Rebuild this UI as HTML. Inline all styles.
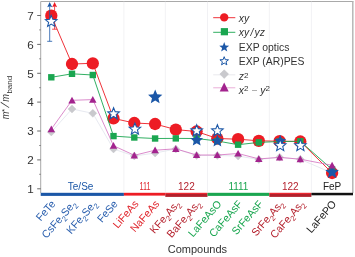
<!DOCTYPE html><html><head><meta charset="utf-8"><style>html,body{margin:0;padding:0;background:#fff}svg{display:block}</style></head><body><svg width="355" height="257" viewBox="0 0 355 257" font-family="Liberation Sans, sans-serif">
<rect width="355" height="257" fill="#fff"/>
<path d="M40.7 193V1.5H353.3" fill="none" stroke="#a4a4a4" stroke-width="0.95"/><line x1="352.8" y1="1.1" x2="352.8" y2="193" stroke="#b2b2b2" stroke-width="1.4"/>
<line x1="123.9" y1="1.5" x2="123.9" y2="192" stroke="#e8e8ed" stroke-width="0.6"/>
<line x1="165.3" y1="1.5" x2="165.3" y2="192" stroke="#e8e8ed" stroke-width="0.6"/>
<line x1="207.5" y1="1.5" x2="207.5" y2="192" stroke="#e8e8ed" stroke-width="0.6"/>
<line x1="269.3" y1="1.5" x2="269.3" y2="192" stroke="#e8e8ed" stroke-width="0.6"/>
<line x1="311.4" y1="1.5" x2="311.4" y2="192" stroke="#e8e8ed" stroke-width="0.6"/>
<line x1="37.2" y1="188.8" x2="40.7" y2="188.8" stroke="#444" stroke-width="0.8"/>
<text transform="translate(33.7,193.1) scale(1.1,1)" font-size="10.6" text-anchor="end" fill="#333">1</text>
<line x1="39.2" y1="174.3" x2="40.7" y2="174.3" stroke="#555" stroke-width="0.7"/>
<line x1="37.2" y1="159.9" x2="40.7" y2="159.9" stroke="#444" stroke-width="0.8"/>
<text transform="translate(33.7,164.2) scale(1.1,1)" font-size="10.6" text-anchor="end" fill="#333">2</text>
<line x1="39.2" y1="145.5" x2="40.7" y2="145.5" stroke="#555" stroke-width="0.7"/>
<line x1="37.2" y1="131.0" x2="40.7" y2="131.0" stroke="#444" stroke-width="0.8"/>
<text transform="translate(33.7,135.3) scale(1.1,1)" font-size="10.6" text-anchor="end" fill="#333">3</text>
<line x1="39.2" y1="116.6" x2="40.7" y2="116.6" stroke="#555" stroke-width="0.7"/>
<line x1="37.2" y1="102.1" x2="40.7" y2="102.1" stroke="#444" stroke-width="0.8"/>
<text transform="translate(33.7,106.4) scale(1.1,1)" font-size="10.6" text-anchor="end" fill="#333">4</text>
<line x1="39.2" y1="87.7" x2="40.7" y2="87.7" stroke="#555" stroke-width="0.7"/>
<line x1="37.2" y1="73.3" x2="40.7" y2="73.3" stroke="#444" stroke-width="0.8"/>
<text transform="translate(33.7,77.6) scale(1.1,1)" font-size="10.6" text-anchor="end" fill="#333">5</text>
<line x1="39.2" y1="58.8" x2="40.7" y2="58.8" stroke="#555" stroke-width="0.7"/>
<line x1="37.2" y1="44.4" x2="40.7" y2="44.4" stroke="#444" stroke-width="0.8"/>
<text transform="translate(33.7,48.7) scale(1.1,1)" font-size="10.6" text-anchor="end" fill="#333">6</text>
<line x1="39.2" y1="29.9" x2="40.7" y2="29.9" stroke="#555" stroke-width="0.7"/>
<line x1="37.2" y1="15.5" x2="40.7" y2="15.5" stroke="#444" stroke-width="0.8"/>
<text transform="translate(33.7,19.8) scale(1.1,1)" font-size="10.6" text-anchor="end" fill="#333">7</text>
<g transform="translate(9.2,119.3) rotate(-90)" fill="#333" font-size="11.4"><text x="0" y="0" font-style="italic" textLength="7.6" lengthAdjust="spacingAndGlyphs">m</text><text x="7.4" y="-2.2" font-size="8">*</text><text transform="translate(11.4,0) skewX(-20)" x="0" y="0">/</text><text x="17.6" y="0" font-style="italic" textLength="7.7" lengthAdjust="spacingAndGlyphs">m</text><text x="25.7" y="3" font-size="8">band</text></g>
<rect x="40.7" y="192.8" width="83.2" height="3.1" fill="#1b57a7"/>
<rect x="123.9" y="192.8" width="41.4" height="2.8" fill="#ed1c24"/>
<rect x="165.3" y="193.6" width="42.2" height="3.3" fill="#b3202b"/>
<rect x="165.3" y="192.8" width="42.2" height="1.1" fill="#ed1c24"/>
<rect x="207.5" y="192.8" width="61.8" height="3.1" fill="#1aa650"/>
<rect x="269.3" y="193.6" width="42.1" height="3.3" fill="#b3202b"/>
<rect x="269.3" y="192.8" width="42.1" height="1.1" fill="#ed1c24"/>
<rect x="311.4" y="192.8" width="41.6" height="2.5" fill="#111"/>
<text x="80.6" y="190.4" font-size="10" text-anchor="middle" fill="#1b57a7">Te/Se</text>
<text x="145.0" y="190.0" font-size="10" text-anchor="middle" fill="#e0262d" textLength="11" lengthAdjust="spacingAndGlyphs">111</text>
<text x="186.4" y="190.0" font-size="10" text-anchor="middle" fill="#b5232f">122</text>
<text x="238.4" y="190.0" font-size="10" text-anchor="middle" fill="#1aa650">1111</text>
<text x="290.3" y="190.0" font-size="10" text-anchor="middle" fill="#b5232f">122</text>
<text x="332.1" y="190.0" font-size="10" text-anchor="middle" fill="#222">FeP</text>
<polyline points="51.3,132.0 72.0,109.0 92.8,113.3 113.5,149.0 134.3,156.0 155.1,153.0 175.8,149.0 196.6,155.5 217.3,155.5 238.1,156.0 258.8,159.5 279.6,157.2 300.3,159.3 332.1,173.0" fill="none" stroke="#dde0ea" stroke-width="0.7"/>
<path d="M51.3 128.0L55.3 132.0L51.3 136.0L47.3 132.0Z" fill="#c9c9cd" stroke="#bfbfc4" stroke-width="0.3"/>
<path d="M72.0 105.0L76.0 109.0L72.0 113.0L68.0 109.0Z" fill="#c9c9cd" stroke="#bfbfc4" stroke-width="0.3"/>
<path d="M92.8 109.3L96.8 113.3L92.8 117.3L88.8 113.3Z" fill="#c9c9cd" stroke="#bfbfc4" stroke-width="0.3"/>
<path d="M113.5 145.0L117.5 149.0L113.5 153.0L109.5 149.0Z" fill="#c9c9cd" stroke="#bfbfc4" stroke-width="0.3"/>
<path d="M134.3 152.0L138.3 156.0L134.3 160.0L130.3 156.0Z" fill="#c9c9cd" stroke="#bfbfc4" stroke-width="0.3"/>
<path d="M155.1 149.0L159.1 153.0L155.1 157.0L151.1 153.0Z" fill="#c9c9cd" stroke="#bfbfc4" stroke-width="0.3"/>
<path d="M175.8 145.0L179.8 149.0L175.8 153.0L171.8 149.0Z" fill="#c9c9cd" stroke="#bfbfc4" stroke-width="0.3"/>
<path d="M196.6 151.5L200.6 155.5L196.6 159.5L192.6 155.5Z" fill="#c9c9cd" stroke="#bfbfc4" stroke-width="0.3"/>
<path d="M217.3 151.5L221.3 155.5L217.3 159.5L213.3 155.5Z" fill="#c9c9cd" stroke="#bfbfc4" stroke-width="0.3"/>
<path d="M238.1 152.0L242.1 156.0L238.1 160.0L234.1 156.0Z" fill="#c9c9cd" stroke="#bfbfc4" stroke-width="0.3"/>
<path d="M258.8 155.5L262.8 159.5L258.8 163.5L254.8 159.5Z" fill="#c9c9cd" stroke="#bfbfc4" stroke-width="0.3"/>
<path d="M279.6 153.2L283.6 157.2L279.6 161.2L275.6 157.2Z" fill="#c9c9cd" stroke="#bfbfc4" stroke-width="0.3"/>
<path d="M300.3 155.3L304.3 159.3L300.3 163.3L296.3 159.3Z" fill="#c9c9cd" stroke="#bfbfc4" stroke-width="0.3"/>
<path d="M332.1 169.0L336.1 173.0L332.1 177.0L328.1 173.0Z" fill="#c9c9cd" stroke="#bfbfc4" stroke-width="0.3"/>
<polyline points="51.3,15.7 72.0,64.0 92.8,63.3 113.5,118.4 134.3,123.0 155.1,124.0 175.8,129.6 196.6,131.5 217.3,138.5 238.1,139.2 258.8,140.8 279.6,141.2 300.3,141.5 332.1,173.0" fill="none" stroke="#ed1c24" stroke-width="0.9"/>
<path d="M54.6 29.2V5 M52.1 29.2H57.1" stroke="#ed1c24" stroke-width="0.8" fill="none"/><path d="M52.1 7.3L54.6 2L57.1 7.3L54.6 6.2Z" fill="#ed1c24"/>
<circle cx="51.3" cy="15.7" r="6.15" fill="#ed1c24"/>
<circle cx="72.0" cy="64.0" r="6.15" fill="#ed1c24"/>
<circle cx="92.8" cy="63.3" r="6.15" fill="#ed1c24"/>
<circle cx="113.5" cy="118.4" r="6.15" fill="#ed1c24"/>
<circle cx="134.3" cy="123.0" r="6.15" fill="#ed1c24"/>
<circle cx="155.1" cy="124.0" r="6.15" fill="#ed1c24"/>
<circle cx="175.8" cy="129.6" r="6.15" fill="#ed1c24"/>
<circle cx="196.6" cy="131.5" r="6.15" fill="#ed1c24"/>
<circle cx="217.3" cy="138.5" r="6.15" fill="#ed1c24"/>
<circle cx="238.1" cy="139.2" r="6.15" fill="#ed1c24"/>
<circle cx="258.8" cy="140.8" r="6.15" fill="#ed1c24"/>
<circle cx="279.6" cy="141.2" r="6.15" fill="#ed1c24"/>
<circle cx="300.3" cy="141.5" r="6.15" fill="#ed1c24"/>
<circle cx="332.1" cy="173.0" r="6.15" fill="#ed1c24"/>
<polyline points="51.3,77.3 72.0,73.8 92.8,75.0 113.5,136.1 134.3,137.5 155.1,138.5 175.8,138.4 196.6,138.5 217.3,141.0 238.1,144.7 258.8,142.4 279.6,141.5 300.3,141.3 332.1,169.5" fill="none" stroke="#1aa650" stroke-width="0.9"/>
<rect x="48.1" y="74.1" width="6.4" height="6.4" fill="#1aa650"/>
<rect x="68.8" y="70.6" width="6.4" height="6.4" fill="#1aa650"/>
<rect x="89.6" y="71.8" width="6.4" height="6.4" fill="#1aa650"/>
<rect x="110.3" y="132.9" width="6.4" height="6.4" fill="#1aa650"/>
<rect x="131.1" y="134.3" width="6.4" height="6.4" fill="#1aa650"/>
<rect x="151.9" y="135.3" width="6.4" height="6.4" fill="#1aa650"/>
<rect x="172.6" y="135.2" width="6.4" height="6.4" fill="#1aa650"/>
<rect x="193.4" y="135.3" width="6.4" height="6.4" fill="#1aa650"/>
<rect x="214.1" y="137.8" width="6.4" height="6.4" fill="#1aa650"/>
<rect x="234.9" y="141.5" width="6.4" height="6.4" fill="#1aa650"/>
<rect x="255.6" y="139.2" width="6.4" height="6.4" fill="#1aa650"/>
<rect x="276.4" y="138.3" width="6.4" height="6.4" fill="#1aa650"/>
<rect x="297.1" y="138.1" width="6.4" height="6.4" fill="#1aa650"/>
<rect x="328.9" y="166.3" width="6.4" height="6.4" fill="#1aa650"/>
<polygon points="155.20,89.60 157.18,94.37 162.33,94.78 158.41,98.14 159.61,103.17 155.20,100.48 150.79,103.17 151.99,98.14 148.07,94.78 153.22,94.37" fill="#1b57a7"/>
<polygon points="196.70,133.50 198.47,137.76 203.07,138.13 199.57,141.13 200.64,145.62 196.70,143.21 192.76,145.62 193.83,141.13 190.33,138.13 194.93,137.76" fill="#1b57a7"/>
<polygon points="217.40,134.40 219.17,138.66 223.77,139.03 220.27,142.03 221.34,146.52 217.40,144.11 213.46,146.52 214.53,142.03 211.03,139.03 215.63,138.66" fill="#1b57a7"/>
<polygon points="280.20,134.70 281.87,138.71 286.19,139.05 282.90,141.88 283.90,146.10 280.20,143.84 276.50,146.10 277.50,141.88 274.21,139.05 278.53,138.71" fill="#1b57a7"/>
<polygon points="332.10,165.00 334.00,169.58 338.95,169.98 335.18,173.20 336.33,178.02 332.10,175.44 327.87,178.02 329.02,173.20 325.25,169.98 330.20,169.58" fill="#1b57a7"/>
<path d="M49.7 41.3V5 M47.2 41.3H52.2" stroke="#1b57a7" stroke-width="0.8" fill="none"/><path d="M47.2 7.3L49.7 2L52.2 7.3L49.7 6.2Z" fill="#1b57a7"/>
<polygon points="51.20,15.40 52.78,19.33 57.00,19.61 53.75,22.33 54.79,26.44 51.20,24.18 47.61,26.44 48.65,22.33 45.40,19.61 49.62,19.33" fill="#fff" stroke="#1b57a7" stroke-width="1.05" stroke-linejoin="miter"/>
<polygon points="113.60,107.70 115.18,111.63 119.40,111.91 116.15,114.63 117.19,118.74 113.60,116.48 110.01,118.74 111.05,114.63 107.80,111.91 112.02,111.63" fill="#fff" stroke="#1b57a7" stroke-width="1.05" stroke-linejoin="miter"/>
<polygon points="134.90,123.00 136.48,126.93 140.70,127.21 137.45,129.93 138.49,134.04 134.90,131.78 131.31,134.04 132.35,129.93 129.10,127.21 133.32,126.93" fill="#fff" stroke="#1b57a7" stroke-width="1.05" stroke-linejoin="miter"/>
<polygon points="196.70,124.70 198.28,128.63 202.50,128.91 199.25,131.63 200.29,135.74 196.70,133.48 193.11,135.74 194.15,131.63 190.90,128.91 195.12,128.63" fill="#fff" stroke="#1b57a7" stroke-width="1.05" stroke-linejoin="miter"/>
<polygon points="217.40,124.70 218.98,128.63 223.20,128.91 219.95,131.63 220.99,135.74 217.40,133.48 213.81,135.74 214.85,131.63 211.60,128.91 215.82,128.63" fill="#fff" stroke="#1b57a7" stroke-width="1.05" stroke-linejoin="miter"/>
<polygon points="280.20,139.60 281.78,143.53 286.00,143.81 282.75,146.53 283.79,150.64 280.20,148.38 276.61,150.64 277.65,146.53 274.40,143.81 278.62,143.53" fill="#fff" stroke="#1b57a7" stroke-width="1.05" stroke-linejoin="miter"/>
<polygon points="300.40,139.60 301.98,143.53 306.20,143.81 302.95,146.53 303.99,150.64 300.40,148.38 296.81,150.64 297.85,146.53 294.60,143.81 298.82,143.53" fill="#fff" stroke="#1b57a7" stroke-width="1.05" stroke-linejoin="miter"/>
<polyline points="51.3,129.1 72.0,100.3 92.8,99.6 113.5,145.7 134.3,155.3 155.1,150.2 175.8,148.8 196.6,155.0 217.3,155.0 238.1,153.5 258.8,158.9 279.6,157.4 300.3,159.2 332.1,165.3" fill="none" stroke="#cf66bb" stroke-width="0.75"/>
<path d="M51.3 125.5L55.0 132.2H47.6Z" fill="#a3238e"/>
<path d="M72.0 96.7L75.8 103.4H68.3Z" fill="#a3238e"/>
<path d="M92.8 96.0L96.5 102.7H89.1Z" fill="#a3238e"/>
<path d="M113.5 142.1L117.2 148.8H109.8Z" fill="#a3238e"/>
<path d="M134.3 151.7L138.0 158.4H130.6Z" fill="#a3238e"/>
<path d="M155.1 146.6L158.8 153.3H151.4Z" fill="#a3238e"/>
<path d="M175.8 145.2L179.5 151.9H172.1Z" fill="#a3238e"/>
<path d="M196.6 151.4L200.2 158.1H192.9Z" fill="#a3238e"/>
<path d="M217.3 151.4L221.0 158.1H213.6Z" fill="#a3238e"/>
<path d="M238.1 149.9L241.8 156.6H234.4Z" fill="#a3238e"/>
<path d="M258.8 155.3L262.5 162.0H255.1Z" fill="#a3238e"/>
<path d="M279.6 153.8L283.2 160.5H275.9Z" fill="#a3238e"/>
<path d="M300.3 155.6L304.0 162.3H296.6Z" fill="#a3238e"/>
<path d="M332.1 161.7L335.8 168.4H328.4Z" fill="#a3238e"/>
<line x1="213.2" y1="17.7" x2="235.3" y2="17.7" stroke="#ed1c24" stroke-width="0.9"/><circle cx="224.2" cy="17.4" r="4.2" fill="#ed1c24"/>
<line x1="213.2" y1="32.3" x2="235.3" y2="32.3" stroke="#1aa650" stroke-width="0.9"/><rect x="220.79999999999998" y="28.099999999999998" width="7.2" height="7.2" fill="#1aa650"/>
<polygon points="224.20,42.10 225.48,45.53 229.15,45.69 226.28,47.97 227.26,51.51 224.20,49.48 221.14,51.51 222.12,47.97 219.25,45.69 222.92,45.53" fill="#1b57a7"/>
<polygon points="224.20,56.70 225.31,59.67 228.48,59.81 226.00,61.78 226.85,64.84 224.20,63.09 221.55,64.84 222.40,61.78 219.92,59.81 223.09,59.67" fill="#fff" stroke="#1b57a7" stroke-width="1"/>
<line x1="213.2" y1="74.8" x2="235.3" y2="74.8" stroke="#e4e4e8" stroke-width="0.8"/><path d="M224.2 69.7L228.6 74.1L224.2 78.5L219.79999999999998 74.1Z" fill="#c9c9cd" stroke="#bdbdc2" stroke-width="0.4"/>
<line x1="213.2" y1="88.2" x2="235.3" y2="88.2" stroke="#e9a6d4" transform="translate(0,-0.4)" stroke-width="0.9"/><path d="M224.2 82.60000000000001L228.7 91.60000000000001H219.7Z" fill="#a3238e"/>
<text x="238.8" y="21.5" fill="#333" font-size="10.4" font-style="italic">xy</text>
<text x="238.8" y="36.099999999999994" fill="#333" font-size="10.4" font-style="italic">xy<tspan dx="1.2">/</tspan><tspan dx="1.2">yz</tspan></text>
<text x="238.8" y="50.7" fill="#333" font-size="10.4">EXP optics</text>
<text x="238.8" y="64.8" fill="#333" font-size="10.4">EXP (AR)PES</text>
<text x="238.8" y="80.39999999999999" fill="#333" font-size="10.4"><tspan font-style="italic">z</tspan><tspan font-size="8" dy="-2.8">2</tspan></text>
<text x="238.8" y="94.2" fill="#333" font-size="10.4"><tspan font-style="italic">x</tspan><tspan font-size="8" dy="-2.8">2</tspan><tspan dy="2.8" fill="#999"> − </tspan><tspan font-style="italic">y</tspan><tspan font-size="8" dy="-2.8">2</tspan></text>
<text transform="translate(56.1,204.3) rotate(-49) scale(0.97,1)" font-size="10.8" text-anchor="end" fill="#2a5fae">FeTe</text>
<text transform="translate(76.8,204.3) rotate(-49) scale(0.97,1)" font-size="10.8" text-anchor="end" fill="#2a5fae">CsFe<tspan font-size="7.6" dy="2.8">2</tspan><tspan dy="-2.8">S</tspan>e<tspan font-size="7.6" dy="2.8">2</tspan></text>
<text transform="translate(97.6,204.3) rotate(-49) scale(0.97,1)" font-size="10.8" text-anchor="end" fill="#2a5fae">KFe<tspan font-size="7.6" dy="2.8">2</tspan><tspan dy="-2.8">S</tspan>e<tspan font-size="7.6" dy="2.8">2</tspan></text>
<text transform="translate(118.3,204.3) rotate(-49) scale(0.97,1)" font-size="10.8" text-anchor="end" fill="#2a5fae">FeSe</text>
<text transform="translate(139.1,204.3) rotate(-49) scale(0.97,1)" font-size="10.8" text-anchor="end" fill="#e0262d">LiFeAs</text>
<text transform="translate(159.9,204.3) rotate(-49) scale(0.97,1)" font-size="10.8" text-anchor="end" fill="#e0262d">NaFeAs</text>
<text transform="translate(180.6,204.3) rotate(-49) scale(0.97,1)" font-size="10.8" text-anchor="end" fill="#b5232f">KFe<tspan font-size="7.6" dy="2.8">2</tspan><tspan dy="-2.8">A</tspan>s<tspan font-size="7.6" dy="2.8">2</tspan></text>
<text transform="translate(201.4,204.3) rotate(-49) scale(0.97,1)" font-size="10.8" text-anchor="end" fill="#b5232f">BaFe<tspan font-size="7.6" dy="2.8">2</tspan><tspan dy="-2.8">A</tspan>s<tspan font-size="7.6" dy="2.8">2</tspan></text>
<text transform="translate(222.1,204.3) rotate(-49) scale(0.97,1)" font-size="10.8" text-anchor="end" fill="#1aa650">LaFeAsO</text>
<text transform="translate(242.9,204.3) rotate(-49) scale(0.97,1)" font-size="10.8" text-anchor="end" fill="#1aa650">CaFeAsF</text>
<text transform="translate(263.6,204.3) rotate(-49) scale(0.97,1)" font-size="10.8" text-anchor="end" fill="#1aa650">SrFeAsF</text>
<text transform="translate(284.4,204.3) rotate(-49) scale(0.97,1)" font-size="10.8" text-anchor="end" fill="#b5232f">SrFe<tspan font-size="7.6" dy="2.8">2</tspan><tspan dy="-2.8">A</tspan>s<tspan font-size="7.6" dy="2.8">2</tspan></text>
<text transform="translate(305.1,204.3) rotate(-49) scale(0.97,1)" font-size="10.8" text-anchor="end" fill="#b5232f">CaFe<tspan font-size="7.6" dy="2.8">2</tspan><tspan dy="-2.8">A</tspan>s<tspan font-size="7.6" dy="2.8">2</tspan></text>
<text transform="translate(336.9,204.3) rotate(-49) scale(0.97,1)" font-size="10.8" text-anchor="end" fill="#222">LaFePO</text>
<text x="197.4" y="253.2" font-size="11" text-anchor="middle" fill="#333">Compounds</text>
</svg></body></html>
